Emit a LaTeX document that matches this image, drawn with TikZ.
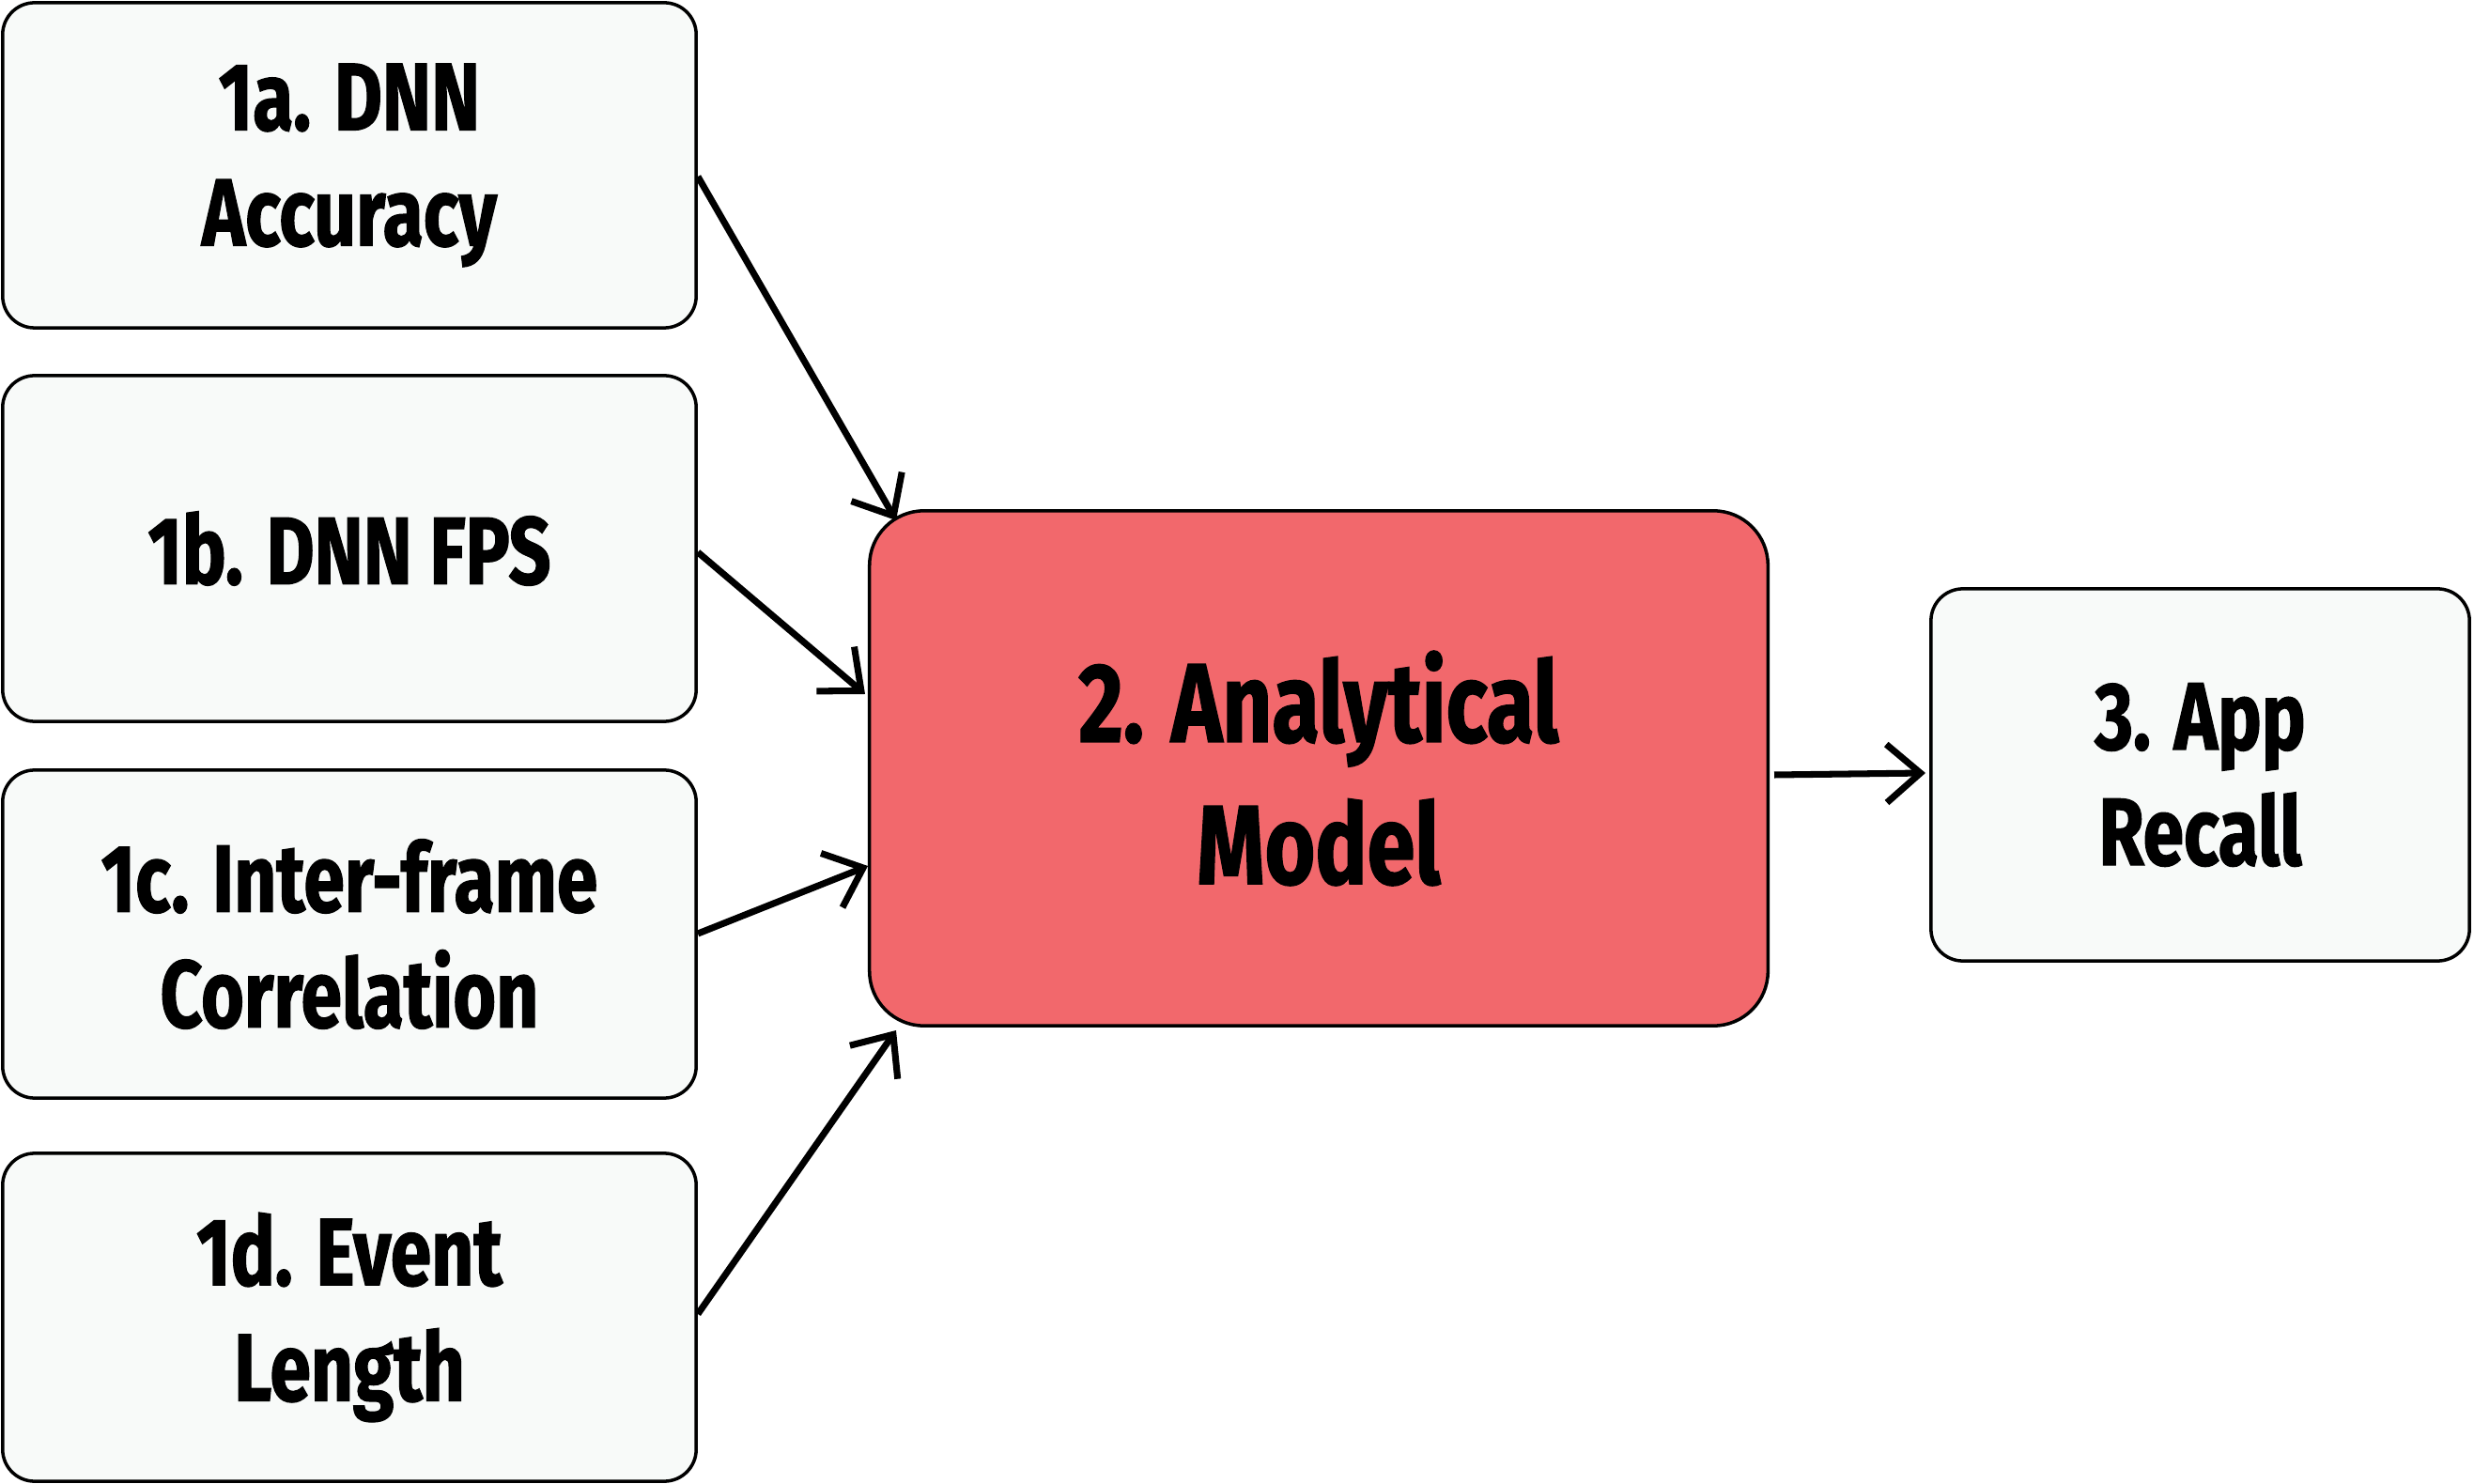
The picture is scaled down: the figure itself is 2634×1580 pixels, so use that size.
\documentclass[tikz,border=0pt]{standalone}
\usepackage{fontspec}
\setmainfont{Fira Sans}[FakeStretch=0.77, BoldFeatures={FakeBold=1.2}]
\usetikzlibrary{arrows.meta}
\definecolor{boxfill}{HTML}{F8FAF9}
\definecolor{modelfill}{HTML}{F2686C}
\tikzset{
  inbox/.style={draw=black, line width=1pt, fill=boxfill, rounded corners=0.34cm,
    align=center, font=\fontsize{29}{35}\selectfont\bfseries, inner sep=0pt},
  modelbox/.style={draw=black, line width=1pt, fill=modelfill, rounded corners=0.58cm,
    align=center, font=\fontsize{34}{43}\selectfont\bfseries, inner sep=0pt},
  conn/.style={line width=2pt, -{Straight Barb[length=0.36cm, width=0.62cm, line width=2pt]}}
}
\begin{document}
\begin{tikzpicture}[x=0.01cm,y=-0.01cm]
\useasboundingbox (0,0) rectangle (2634,1580);
\node[inbox, minimum width=7.38cm, minimum height=3.46cm] (a) at (372,176) {1a. DNN\\Accuracy};
\node[inbox, minimum width=7.38cm, minimum height=3.68cm] (b) at (372,584) {1b. DNN FPS};
\node[inbox, minimum width=7.38cm, minimum height=3.49cm] (c) at (372,994.5) {1c. Inter-frame\\Correlation};
\node[inbox, minimum width=7.38cm, minimum height=3.49cm] (d) at (372,1402.5) {1d. Event\\Length};
\node[modelbox, minimum width=9.56cm, minimum height=5.48cm] (m) at (1404,818) {2. Analytical\\Model};
\node[inbox, minimum width=5.73cm, minimum height=3.96cm] (r) at (2342.5,825) {3. App\\Recall};
\coordinate (ta) at (954,554);
\coordinate (tb) at (921,739);
\coordinate (tc) at (924,922);
\coordinate (td) at (954,1097);
\coordinate (sa) at (743,188);
\coordinate (sb) at (743,588);
\coordinate (sc) at (743,994);
\coordinate (sd) at (743,1399);
\coordinate (sm) at (1889,825);
\coordinate (tr) at (2050,823);
\draw[conn] (sa) -- (ta);
\draw[conn] (sb) -- (tb);
\draw[conn] (sc) -- (tc);
\draw[conn] (sd) -- (td);
\draw[conn] (sm) -- (tr);
\end{tikzpicture}
\end{document}
